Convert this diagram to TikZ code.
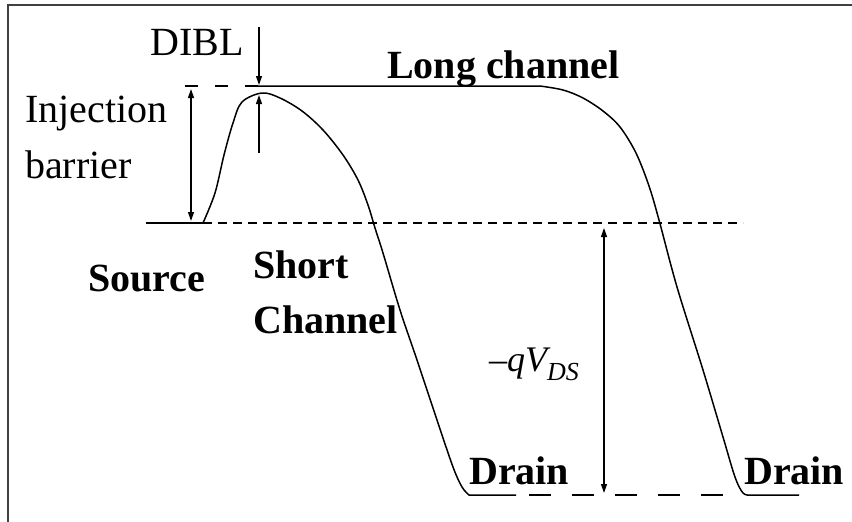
\documentclass[tikz,border=0pt]{standalone}
\usepackage{fontspec}
\setmainfont{Liberation Serif}
\usetikzlibrary{arrows.meta,positioning}
\tikzset{
  >={Triangle[length=9pt,width=6pt]},
  bframe/.style={black!75, line width=2pt},
  bcurve/.style={black, line width=1.5pt, line join=round},
  bdash/.style={black, line width=1.5pt, dash pattern=on 9pt off 6pt},
  bdim/.style={black, line width=1.2pt},
  blbl/.style={anchor=base west, inner sep=0pt, font=\fontsize{40}{48}\selectfont},
  bhead/.style={blbl, font=\fontsize{40}{48}\selectfont\bfseries},
}
\begin{document}
\begin{tikzpicture}[x=1pt,y=-1pt]
  \useasboundingbox (0,0) rectangle (852,522);
  \draw[bframe] (8,522) |- (852,5);

  % levels
  \coordinate (src0) at (146,223);
  \coordinate (src1) at (203,223);
  \coordinate (mid1) at (743,223);
  \coordinate (top0) at (185,86);
  \coordinate (top1) at (258,86);
  \coordinate (drn0) at (529,495);
  \coordinate (drn1) at (743,495);

  \draw[bcurve] (src0) -- (src1);
  \draw[bdash] (src1) -- (mid1);
  \draw[bdash, dash pattern=on 13pt off 17pt] (top0) -- (top1);
  \draw[bdash, dash pattern=on 22pt off 21pt] (drn0) -- (drn1);

  % short channel
  \draw[bcurve] plot[smooth, tension=0.55] coordinates {(203,223) (215,193)
      (224,155) (233,123) (242,102) (262,93) (280,98) (302,111)
      (323,130) (343,155) (358,180) (368,205) (375,228) (383,253) (400,310)
      (417,360) (437,420) (453,467) (462,487) (469,495)} -- (516,495);

  % long channel
  \draw[bcurve] (top1) -- (540,86) plot[smooth, tension=0.55] coordinates {(540,86)
      (563,90) (583,98) (603,111) (620,127) (636,153) (649,186) (659,220)
      (677,287) (703,370) (723,437) (735,477) (743,493) (750,495)} -- (799,495);

  % arrows
  \coordinate (dibA) at (259,27);
  \coordinate (dibB) at (259,85);
  \coordinate (dibC) at (259,153);
  \coordinate (dibD) at (259,95);
  \draw[bdim, ->] (dibA) -- (dibB);
  \draw[bdim, ->] (dibC) -- (dibD);

  \coordinate (injA) at (191,89);
  \coordinate (injB) at (191,221);
  \draw[bdim, <->] (injA) -- (injB);

  \coordinate (vdsA) at (604,228);
  \coordinate (vdsB) at (604,493);
  \draw[bdim, <->] (vdsA) -- (vdsB);

  % labels
  \node[blbl] (dibl) at (150,55) {DIBL};
  \node[blbl] (inj) at (25,122) {Injection};
  \node[blbl] (barr) at (25,178) {barrier};
  \node[bhead] (long) at (387,78) {Long channel};
  \node[bhead] (src) at (88,291) {Source};
  \node[bhead] (short) at (253,278) {Short};
  \node[bhead] (chan) at (253,333) {Channel};
  \node[bhead] (drnL) at (469,484) {Drain};
  \node[bhead] (drnR) at (744,484) {Drain};
  \node[blbl, font=\fontsize{36}{40}\selectfont\itshape] (vds) at (489,371)
       {\textendash qV\raisebox{-9pt}{\fontsize{26}{28}\selectfont DS}};

\end{tikzpicture}
\end{document}
